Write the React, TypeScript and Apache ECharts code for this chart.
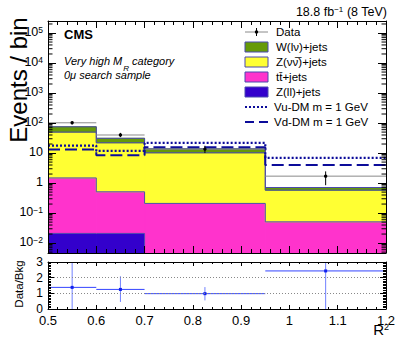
import React, { useEffect, useRef } from 'react';
import * as echarts from 'echarts';

// ---- data ----
const binEdges = [0.5, 0.6, 0.7, 0.95, 1.2];
const zllJets = [0.021, 0.021, 0, 0];
const ttJets = [1.46, 0.49, 0.21, 0.051];
const zvvJets = [48.5, 21.5, 10.0, 0.53];
const wJets = [25, 9, 3.6, 0.13];
const dataValues = [102, 40, 13.5, 1.7];
const dataLow = [92, 34, 10, 0.85];
const dataHigh = [112, 47, 17.5, 2.45];
const vuDM = [17.8, 11.8, 21.8, 6.9];
const vdDM = [13.1, 8.5, 15.6, 4.0];
const ratioValues = [1.38, 1.25, 0.98, 2.43];
const ratioLow = [0, 0.45, 0.55, 0];
const ratioHigh = [3.5, 2.09, 1.4, 3.5];
const yLogMin = Math.pow(10, -2.33);
const yLogMax = Math.pow(10, 5.4);

const FONT = 'Liberation Sans, Arial, Helvetica, sans-serif';
const DM_COLOR = '#0c0c9a';
const OUTLINE = '#4a48b0';

const processes = [
  { name: 'Z(ll)+jets', values: zllJets, color: '#3300cc' },
  { name: 'tt\u0304+jets', values: ttJets, color: '#ff33cc' },
  { name: 'Z(\u03bd\u03bd\u0305)+jets', values: zvvJets, color: '#ffff33' },
  { name: 'W(l\u03bd)+jets', values: wJets, color: '#669a08' },
];

function buildStack() {
  const cum = binEdges.slice(0, -1).map(() => 0);
  return processes.map((p) => {
    const items: number[][] = [];
    const tops: number[] = [];
    p.values.forEach((v, i) => {
      const lower = cum[i];
      const upper = lower + v;
      cum[i] = upper;
      tops.push(upper > 0 ? upper : yLogMin / 10);
      if (v > 0) items.push([binEdges[i], binEdges[i + 1], lower > 0 ? lower : yLogMin / 10, upper]);
    });
    return { ...p, items, tops };
  });
}

function stepData(vals: number[]) {
  const d = binEdges.slice(0, -1).map((x, i) => [x, vals[i]]);
  d.push([binEdges[binEdges.length - 1], vals[vals.length - 1]]);
  return d;
}

const minorLogTicks: number[] = [];
for (let e = -3; e <= 5; e++) for (let m = 2; m <= 9; m++) {
  const v = m * Math.pow(10, e);
  if (v > yLogMin && v < yLogMax) minorLogTicks.push(v);
}

function logLabel(v: number) {
  const e = Math.log10(v);
  const r = Math.round(e);
  if (Math.abs(e - r) > 1e-6) return '';
  if (r === 0) return '{b|1}';
  if (r === 1) return '{b|10}';
  return '{b|10}{s|' + (r < 0 ? '\u2212' + -r : r) + '}';
}

export default function App() {
  const ref = useRef<HTMLDivElement>(null);
  useEffect(() => {
    document.body.style.margin = '0';
    const chart = echarts.init(ref.current!, null, { renderer: 'svg' });
    const stack = buildStack();
    const xMin = binEdges[0];
    const xMax = binEdges[binEdges.length - 1];

    const xBase = (grid: number, pos: string, labels: boolean, major: number, minor: number) => ({
      type: 'value', gridIndex: grid, position: pos, min: xMin, max: xMax, interval: 0.1, z: 10,
      axisLine: { show: true, onZero: false, lineStyle: { color: '#000', width: 1 } },
      axisTick: { show: true, inside: true, length: major, lineStyle: { color: '#000' } },
      minorTick: { show: true, splitNumber: 5, length: minor, lineStyle: { color: '#000' } },
      splitLine: { show: false },
      axisLabel: labels
        ? { show: true, margin: 5, fontSize: 13, fontFamily: FONT, color: '#000' }
        : { show: false },
    });
    const yLog = (pos: string, labels: boolean) => ({
      type: 'log', gridIndex: 0, position: pos, min: yLogMin, max: yLogMax, splitNumber: 8, z: 10,
      axisLine: { show: true, onZero: false, lineStyle: { color: '#000', width: 1 } },
      axisTick: { show: true, inside: true, length: 8, lineStyle: { color: '#000' } },
      splitLine: { show: false },
      axisLabel: labels
        ? {
            show: true, margin: 5, formatter: logLabel,
            rich: {
              b: { fontSize: 12.5, fontFamily: FONT, color: '#000', lineHeight: 16, verticalAlign: 'top' },
              s: { fontSize: 8.5, fontFamily: FONT, color: '#000', lineHeight: 9, verticalAlign: 'top' },
            },
          }
        : { show: false },
    });
    const yRatio = (pos: string, labels: boolean) => ({
      type: 'value', gridIndex: 1, position: pos, min: 0, max: 3, interval: 1, z: 10,
      axisLine: { show: true, onZero: false, lineStyle: { color: '#000', width: 1 } },
      axisTick: { show: true, inside: true, length: 6, lineStyle: { color: '#000' } },
      minorTick: { show: true, splitNumber: 10, length: 3, lineStyle: { color: '#000' } },
      splitLine: labels ? { show: true, lineStyle: { color: '#888', type: [1, 2], width: 1 } } : { show: false },
      axisLabel: labels ? { show: true, margin: 5, fontSize: 12, fontFamily: FONT, color: '#000' } : { show: false },
    });

    const stackSeries = stack.map((p) => ({
      type: 'custom', name: p.name, xAxisIndex: 0, yAxisIndex: 0, clip: true, z: 2,
      encode: { x: [0, 1], y: [2, 3] },
      data: p.items,
      renderItem: (params: any, api: any) => {
        const a = api.coord([api.value(0), api.value(3)]);
        const b = api.coord([api.value(1), api.value(2)]);
        return {
          type: 'rect',
          shape: { x: a[0], y: a[1], width: b[0] - a[0], height: b[1] - a[1] },
          style: { fill: p.color, stroke: p.color, lineWidth: 1 },
        };
      },
    }));
    const outlineSeries = stack.map((p) => ({
      type: 'line', name: p.name + ' outline', xAxisIndex: 0, yAxisIndex: 0, step: 'end', symbol: 'none', z: 3,
      clip: true, silent: true,
      data: stepData(p.tops), lineStyle: { color: OUTLINE, width: 1 },
    }));

    const dataItems = dataValues.map((v, i) => [binEdges[i], binEdges[i + 1], v, dataLow[i], dataHigh[i]]);
    const ratioItems = ratioValues.map((v, i) => [binEdges[i], binEdges[i + 1], v, ratioLow[i], ratioHigh[i]]);

    const errRender = (hColor: string, vColor: string, marker: 'circle' | 'square') => (params: any, api: any) => {
      const x0 = api.value(0), x1 = api.value(1), y = api.value(2);
      const xc = (x0 + x1) / 2;
      const pl = api.coord([x0, y]);
      const pr = api.coord([x1, y]);
      const pc = api.coord([xc, y]);
      const plo = api.coord([xc, api.value(3)]);
      const phi = api.coord([xc, api.value(4)]);
      const children: any[] = [
        { type: 'line', shape: { x1: pl[0], y1: pl[1], x2: pr[0], y2: pr[1] }, style: { stroke: hColor, lineWidth: 1 } },
        { type: 'line', shape: { x1: plo[0], y1: plo[1], x2: phi[0], y2: phi[1] }, style: { stroke: vColor, lineWidth: 1 } },
      ];
      if (marker === 'circle') children.push({ type: 'circle', shape: { cx: pc[0], cy: pc[1], r: 1.7 }, style: { fill: '#000' } });
      else children.push({ type: 'rect', shape: { x: pc[0] - 1.5, y: pc[1] - 1.5, width: 3, height: 3 }, style: { fill: '#1020ee' } });
      return { type: 'group', children };
    };

    const option: any = {
      animation: false,
      grid: [
        { left: 48, top: 21, width: 338, height: 232 },
        { left: 48, top: 262, width: 338, height: 47 },
      ],
      xAxis: [
        xBase(0, 'bottom', false, 7, 4),
        xBase(0, 'top', false, 7, 4),
        xBase(1, 'bottom', true, 4, 2),
        xBase(1, 'top', false, 4, 2),
      ],
      yAxis: [yLog('left', true), yLog('right', false), yRatio('left', true), yRatio('right', false)],
      series: [
        ...stackSeries,
        ...outlineSeries,
        {
          type: 'line', name: 'Vu-DM m = 1 GeV', xAxisIndex: 0, yAxisIndex: 0, step: 'end', symbol: 'none', z: 4,
          data: stepData(vuDM), lineStyle: { color: DM_COLOR, width: 2.2, type: [2, 2] },
        },
        {
          type: 'line', name: 'Vd-DM m = 1 GeV', xAxisIndex: 0, yAxisIndex: 0, step: 'end', symbol: 'none', z: 4,
          data: stepData(vdDM), lineStyle: { color: DM_COLOR, width: 2, type: [12, 5] },
        },
        {
          type: 'custom', name: 'Data', xAxisIndex: 0, yAxisIndex: 0, clip: true, z: 5,
          encode: { x: [0, 1], y: [2, 3, 4] }, data: dataItems,
          renderItem: errRender('#8a8a8a', '#000', 'circle'),
        },
        {
          type: 'custom', name: 'Ratio', xAxisIndex: 2, yAxisIndex: 2, clip: true, z: 5,
          encode: { x: [0, 1], y: [2, 3, 4] }, data: ratioItems,
          renderItem: errRender('#3344ff', '#7080ff', 'square'),
        },
        {
          type: 'custom', name: 'minorLog', xAxisIndex: 0, yAxisIndex: 0, z: 11, silent: true,
          encode: { y: 0 }, data: minorLogTicks.map((v) => [v]),
          renderItem: (params: any, api: any) => {
            const v = api.value(0);
            const l = api.coord([xMin, v]);
            const r = api.coord([xMax, v]);
            return {
              type: 'group',
              children: [
                { type: 'line', shape: { x1: l[0], y1: l[1], x2: l[0] + 4.5, y2: l[1] }, style: { stroke: '#000', lineWidth: 1 } },
                { type: 'line', shape: { x1: r[0] - 4.5, y1: r[1], x2: r[0], y2: r[1] }, style: { stroke: '#000', lineWidth: 1 } },
              ],
            };
          },
        },
      ],
      graphic: [] as any[],
    };

    const g = option.graphic;
    const txt = (x: number, y: number, text: string, extra: any = {}) => ({
      type: 'text', x, y, z: 20,
      style: { text, fontFamily: FONT, fontSize: 11.5, fill: '#000', verticalAlign: 'middle', align: 'left', ...extra },
    });
    // legend
    const lx = 245, lw = 23, tx = 276;
    const rows = [32, 47, 62, 77, 92, 107, 122];
    g.push({ type: 'line', z: 20, shape: { x1: lx, y1: rows[0], x2: lx + lw, y2: rows[0] }, style: { stroke: '#8a8a8a', lineWidth: 1 } });
    g.push({ type: 'line', z: 20, shape: { x1: lx + lw / 2, y1: rows[0] - 4, x2: lx + lw / 2, y2: rows[0] + 4 }, style: { stroke: '#000', lineWidth: 1 } });
    g.push({ type: 'circle', z: 21, shape: { cx: lx + lw / 2, cy: rows[0], r: 1.7 }, style: { fill: '#000' } });
    g.push(txt(tx, rows[0], 'Data'));
    const legendProcs = [processes[3], processes[2], processes[1], processes[0]];
    legendProcs.forEach((p, i) => {
      const y = rows[i + 1];
      g.push({ type: 'rect', z: 20, shape: { x: lx, y: y - 5, width: lw, height: 10 }, style: { fill: p.color, stroke: OUTLINE, lineWidth: 1 } });
      g.push(txt(tx, y, p.name));
    });
    g.push({ type: 'line', z: 20, shape: { x1: lx, y1: rows[5], x2: lx + lw, y2: rows[5] }, style: { stroke: DM_COLOR, lineWidth: 2, lineDash: [2, 2] } });
    g.push(txt(tx - 2, rows[5], 'Vu-DM m = 1 GeV'));
    g.push({ type: 'line', z: 20, shape: { x1: lx, y1: rows[6], x2: lx + lw, y2: rows[6] }, style: { stroke: DM_COLOR, lineWidth: 2, lineDash: [9, 5] } });
    g.push(txt(tx - 2, rows[6], 'Vd-DM m = 1 GeV'));

    // annotations
    g.push(txt(64, 34, 'CMS', { fontSize: 13, fontWeight: 'bold' }));
    g.push({
      type: 'text', x: 64, y: 55, z: 20,
      style: {
        text: '{i|Very high M}{r|R}{i| category}',
        rich: {
          i: { fontFamily: FONT, fontSize: 11, fontStyle: 'italic', fill: '#000', lineHeight: 13, verticalAlign: 'top' },
          r: { fontFamily: FONT, fontSize: 8, fontStyle: 'italic', fill: '#000', lineHeight: 8, padding: [9, 0, 0, 1], verticalAlign: 'top' },
        },
      },
    });
    g.push(txt(64, 75, '0\u03bc search sample', { fontSize: 11, fontStyle: 'italic' }));
    g.push({
      type: 'text', x: 387, y: 5, z: 20,
      style: {
        text: '{a|18.8 fb}{s|\u22121}{a| (8 TeV)}', align: 'right',
        rich: {
          a: { fontFamily: FONT, fontSize: 12.5, fill: '#000', lineHeight: 16, verticalAlign: 'top' },
          s: { fontFamily: FONT, fontSize: 8, fill: '#000', lineHeight: 9, verticalAlign: 'top' },
        },
      },
    });
    g.push({
      type: 'text', x: 389, y: 322, z: 20,
      style: {
        text: '{a|R}{s|2}', align: 'right',
        rich: {
          a: { fontFamily: FONT, fontSize: 15, fill: '#000', lineHeight: 18, verticalAlign: 'top' },
          s: { fontFamily: FONT, fontSize: 9, fill: '#000', lineHeight: 10, verticalAlign: 'top' },
        },
      },
    });
    g.push({
      type: 'text', x: 18, y: 80, rotation: Math.PI / 2, z: 20,
      style: { text: 'Events / bin', fontFamily: FONT, fontSize: 24, fill: '#000', align: 'center', verticalAlign: 'middle' },
    });
    g.push({
      type: 'text', x: 19, y: 284, rotation: Math.PI / 2, z: 20,
      style: { text: 'Data/Bkg', fontFamily: FONT, fontSize: 11.5, fill: '#000', align: 'center', verticalAlign: 'middle' },
    });

    chart.setOption(option);
    return () => chart.dispose();
  }, []);
  return <div ref={ref} style={{ width: 399, height: 338 }} />;
}
